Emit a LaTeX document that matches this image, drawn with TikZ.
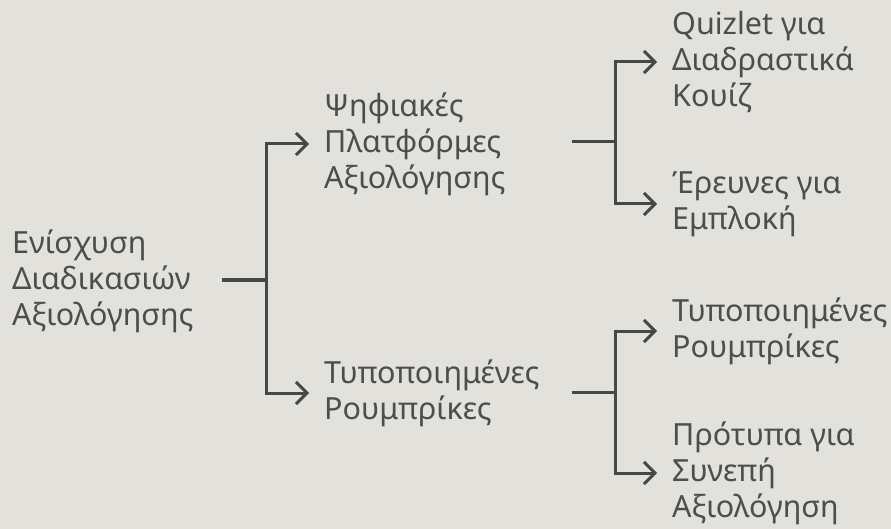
\documentclass[tikz,border=0pt]{standalone}
\usepackage{fontspec}
\setmainfont{Noto Sans}
\usetikzlibrary{arrows.meta}
\definecolor{bg}{HTML}{E2E1DC}
\definecolor{ink}{HTML}{474747}
\definecolor{txt}{HTML}{4D4D4D}
\begin{document}
\begin{tikzpicture}[x=1pt,y=-1pt,
  lbl/.style={anchor=west, align=left, font=\fontsize{30.5}{36}\selectfont, text=txt, inner sep=0pt},
  conn/.style={draw=ink, line width=3pt},
  arr/.style={conn, shorten >=15pt, -{Straight Barb[length=11pt,width=22pt]}}]
\fill[bg] (0,0) rectangle (891,529);
\useasboundingbox (0,0) rectangle (891,529);
\node[lbl] (root) at (12,281) {Ενίσχυση\\Διαδικασιών\\Αξιολόγησης};
\node[lbl] (m1) at (324,144) {Ψηφιακές\\Πλατφόρμες\\Αξιολόγησης};
\node[lbl] (m2) at (324,393) {Τυποποιημένες\\Ρουμπρίκες};
\node[lbl] (l1) at (672,62) {Quizlet για\\Διαδραστικά\\Κουίζ};
\node[lbl] (l2) at (672,204) {Έρευνες για\\Εμπλοκή};
\node[lbl] (l3) at (672,331) {Τυποποιημένες\\Ρουμπρίκες};
\node[lbl] (l4) at (672,473) {Πρότυπα για\\Συνεπή\\Αξιολόγηση};
\coordinate (r0) at (222,280);
\coordinate (rj) at (266,280);
\coordinate (a0) at (572,142);
\coordinate (aj) at (615,142);
\coordinate (b0) at (572,392);
\coordinate (bj) at (615,392);
\draw[conn] (r0) -- (rj);
\draw[arr] (rj) |- (m1.west);
\draw[arr] (rj) |- (m2.west);
\draw[conn] (a0) -- (aj);
\draw[arr] (aj) |- (l1.west);
\draw[arr] (aj) |- (l2.west);
\draw[conn] (b0) -- (bj);
\draw[arr] (bj) |- (l3.west);
\draw[arr] (bj) |- (l4.west);
\end{tikzpicture}
\end{document}
